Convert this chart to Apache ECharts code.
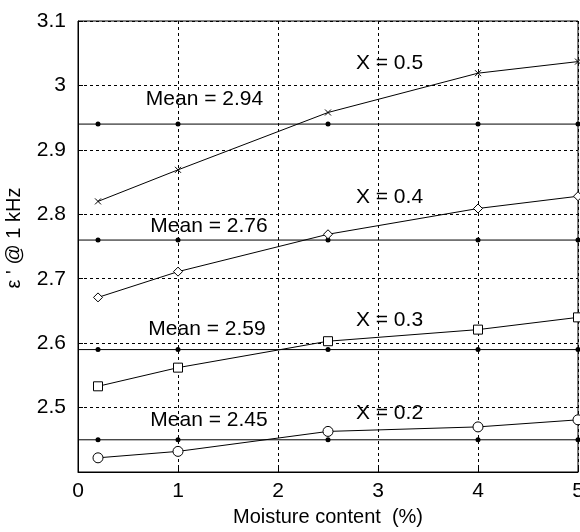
<!DOCTYPE html>
<html>
<head>
<meta charset="utf-8">
<script src="https://cdn.jsdelivr.net/npm/echarts@6/dist/echarts.min.js"></script>
<style>
  html, body { margin: 0; padding: 0; background: #fff; }
  #chart { width: 580px; height: 532px; }
</style>
</head>
<body>
<div id="chart"></div>
<script>
// Moisture content (%) at which permittivity was measured
const moisture = [0.2, 1, 2.5, 4, 5];

// Real permittivity at 1 kHz for each volume fraction X
const epsX05 = [2.820, 2.869, 2.958, 3.019, 3.037];
const epsX04 = [2.671, 2.711, 2.769, 2.809, 2.828];
const epsX03 = [2.533, 2.562, 2.603, 2.621, 2.640];
const epsX02 = [2.422, 2.432, 2.463, 2.470, 2.481];

// Mean value for each fraction
const meanValues = [2.94, 2.76, 2.59, 2.45];

// Axis ticks
const xTicks = [0, 1, 2, 3, 4, 5];
const yTicks = [2.4, 2.5, 2.6, 2.7, 2.8, 2.9, 3.0, 3.1];

// Annotation text and where it sits in data units
const curveLabels = ['X = 0.5', 'X = 0.4', 'X = 0.3', 'X = 0.2'];
const curveLabelX = [3.115, 3.115, 3.115, 3.115];
const curveLabelY = [3.035, 2.826, 2.635, 2.491];
const meanLabelX = [1.265, 1.31, 1.29, 1.31];
const meanLabelY = [2.978, 2.782, 2.622, 2.481];

const FONT = 'Liberation Sans, Arial, Helvetica, sans-serif';
const FS = 21;

const pairs = (xs, ys) => xs.map((x, i) => [x, ys[i]]);

function curveSeries(ys, symbol, size) {
  return {
    type: 'line',
    data: pairs(moisture, ys),
    symbol: symbol,
    symbolSize: size,
    showAllSymbol: true,
    clip: false,
    lineStyle: { color: '#000', width: 1 },
    itemStyle: { color: '#fff', borderColor: '#000', borderWidth: 1 },
    emphasis: { disabled: true },
    z: 3
  };
}

function meanSeries(m) {
  const data = [{ value: [xTicks[0], m], symbol: 'none' }]
    .concat(moisture.map(x => [x, m]));
  return {
    type: 'line',
    data: data,
    symbol: 'circle',
    symbolSize: 5,
    clip: false,
    lineStyle: { color: '#000', width: 1 },
    itemStyle: { color: '#000', borderWidth: 0 },
    emphasis: { disabled: true },
    z: 2
  };
}

const crossPath = 'path://M0,0L10,10M10,0L0,10';

const chart = echarts.init(document.getElementById('chart'), null, { renderer: 'canvas' });

const option = {
  animation: false,
  backgroundColor: '#fff',
  textStyle: { fontFamily: FONT },
  grid: {
    left: 78, right: 2, top: 21, bottom: 60,
    containLabel: false,
    outerBoundsMode: 'none',
    show: true, borderColor: '#000', borderWidth: 1, backgroundColor: 'transparent'
  },
  xAxis: {
    type: 'value',
    min: xTicks[0], max: xTicks[xTicks.length - 1], interval: 1,
    name: 'Moisture content  (%)',
    nameLocation: 'middle',
    nameGap: 35,
    nameTextStyle: { color: '#000', fontSize: FS - 1, fontFamily: FONT },
    axisLine: { show: true, lineStyle: { color: '#000', width: 1 } },
    axisTick: { show: true, inside: true, length: 5, lineStyle: { color: '#000' } },
    axisLabel: { color: '#000', fontSize: FS, fontFamily: FONT, margin: 9 },
    splitLine: { show: true, lineStyle: { color: '#000', width: 1, type: [3, 3] } }
  },
  yAxis: {
    type: 'value',
    min: yTicks[0], max: yTicks[yTicks.length - 1], interval: 0.1,
    axisLine: { show: true, lineStyle: { color: '#000', width: 1 } },
    axisTick: { show: true, inside: true, length: 5, lineStyle: { color: '#000' } },
    axisLabel: {
      color: '#000', fontSize: FS, fontFamily: FONT, margin: 12,
      formatter: v => (Math.abs(v - yTicks[0]) < 1e-6 ? '' : String(+v.toFixed(1)))
    },
    splitLine: { show: true, lineStyle: { color: '#000', width: 1, type: [3, 3] } }
  },
  series: [
    meanSeries(meanValues[0]),
    meanSeries(meanValues[1]),
    meanSeries(meanValues[2]),
    meanSeries(meanValues[3]),
    curveSeries(epsX05, crossPath, 6),
    curveSeries(epsX04, 'diamond', 9),
    curveSeries(epsX03, 'rect', 9),
    curveSeries(epsX02, 'circle', 10)
  ]
};

chart.setOption(option);

// Place annotations from data coordinates
const graphics = [];
curveLabels.forEach((t, i) => {
  const p = chart.convertToPixel({ gridIndex: 0 }, [curveLabelX[i], curveLabelY[i]]);
  graphics.push({
    type: 'text', x: p[0], y: p[1], z: 10,
    style: { text: t, font: FS + 'px ' + FONT, fill: '#000', align: 'center', verticalAlign: 'middle' }
  });
});
meanValues.forEach((m, i) => {
  const p = chart.convertToPixel({ gridIndex: 0 }, [meanLabelX[i], meanLabelY[i]]);
  graphics.push({
    type: 'text', x: p[0], y: p[1], z: 10,
    style: { text: 'Mean = ' + m.toFixed(2), font: FS + 'px ' + FONT, fill: '#000', align: 'center', verticalAlign: 'middle' }
  });
});
// Vertical axis title
graphics.push({
  type: 'text', x: 14, y: 238, rotation: Math.PI / 2, z: 10,
  style: { text: "ε ' @ 1 kHz", font: (FS - 1) + 'px ' + FONT, fill: '#000', align: 'center', verticalAlign: 'middle' }
});

chart.setOption({ graphic: graphics });
</script>
</body>
</html>
